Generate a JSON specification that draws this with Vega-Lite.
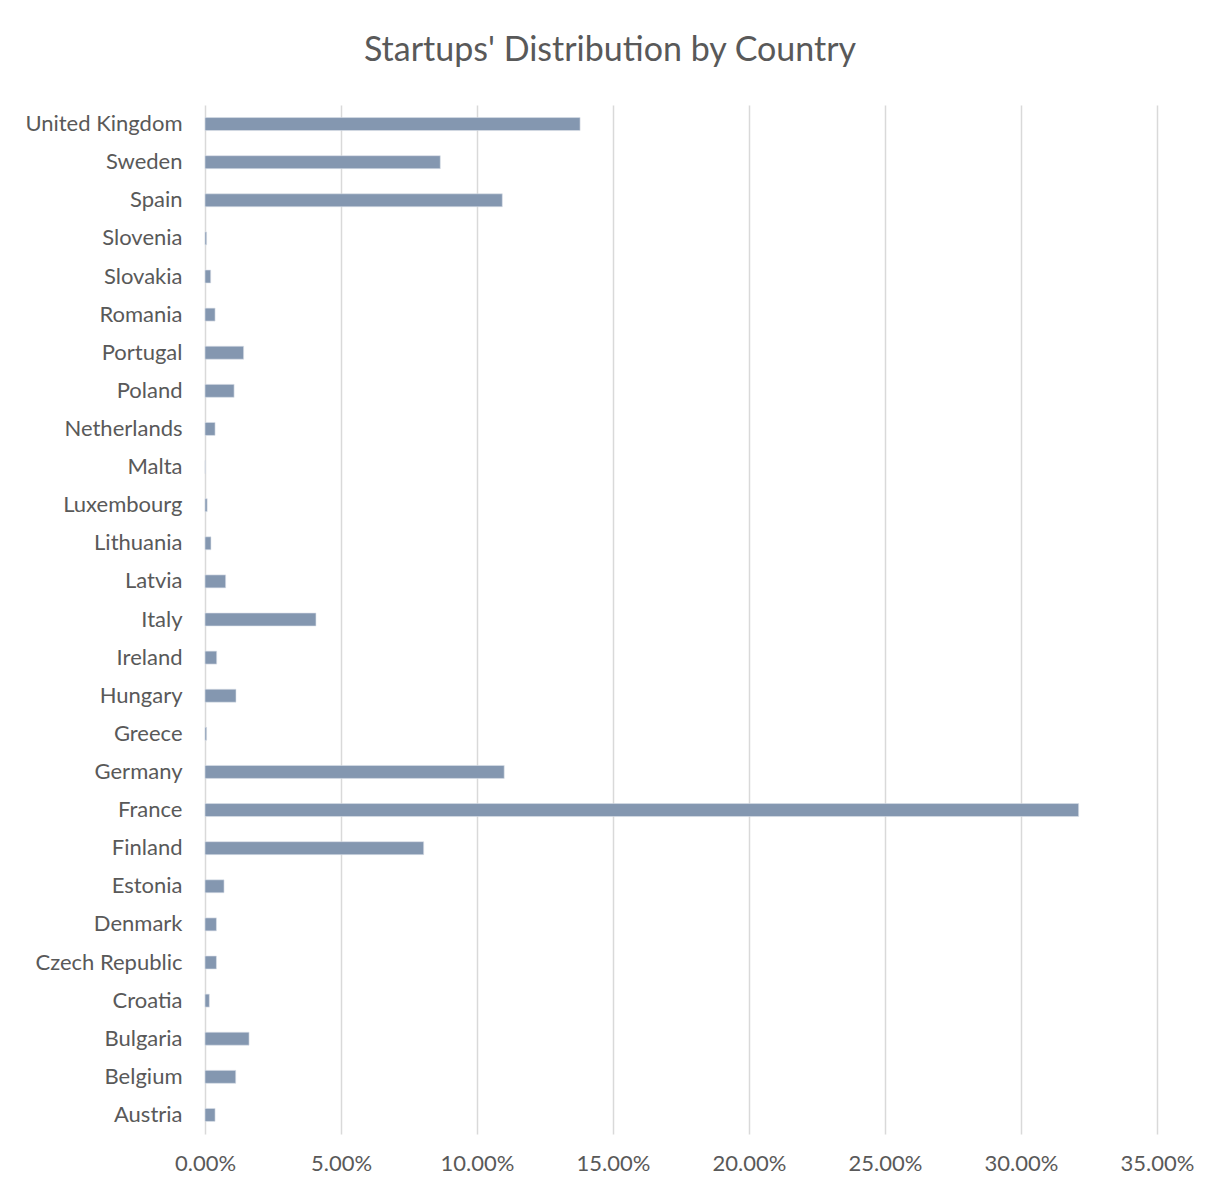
{
  "$schema": "https://vega.github.io/schema/vega-lite/v6.json",
  "autosize": "none",
  "width": 952,
  "height": 1029,
  "padding": {"left": 205, "top": 105, "right": 63, "bottom": 55},
  "background": "white",
  "title": {
    "text": "Startups' Distribution by Country",
    "anchor": "middle",
    "dx": -71,
    "offset": 37,
    "fontSize": 34,
    "font": "Lato",
    "fontWeight": "normal",
    "color": "#595959"
  },
  "data": {
    "values": [
      {"country": "United Kingdom", "share": 0.1379},
      {"country": "Sweden", "share": 0.0865},
      {"country": "Spain", "share": 0.1093},
      {"country": "Slovenia", "share": 0.0006},
      {"country": "Slovakia", "share": 0.0021},
      {"country": "Romania", "share": 0.0037},
      {"country": "Portugal", "share": 0.0142},
      {"country": "Poland", "share": 0.0107},
      {"country": "Netherlands", "share": 0.0037},
      {"country": "Malta", "share": 0.0001},
      {"country": "Luxembourg", "share": 0.0008},
      {"country": "Lithuania", "share": 0.0022},
      {"country": "Latvia", "share": 0.0076},
      {"country": "Italy", "share": 0.0408},
      {"country": "Ireland", "share": 0.0043},
      {"country": "Hungary", "share": 0.0114},
      {"country": "Greece", "share": 0.0006},
      {"country": "Germany", "share": 0.11},
      {"country": "France", "share": 0.3212},
      {"country": "Finland", "share": 0.0804},
      {"country": "Estonia", "share": 0.007},
      {"country": "Denmark", "share": 0.0042},
      {"country": "Czech Republic", "share": 0.0042},
      {"country": "Croatia", "share": 0.0016},
      {"country": "Bulgaria", "share": 0.0162},
      {"country": "Belgium", "share": 0.0113},
      {"country": "Austria", "share": 0.0037}
    ]
  },
  "mark": {"type": "bar", "color": "#8497b0", "stroke": "#dbe1ea", "strokeWidth": 0.6},
  "encoding": {
    "y": {
      "field": "country",
      "type": "nominal",
      "sort": "descending",
      "scale": {"paddingInner": 0.66, "paddingOuter": 0.33},
      "axis": {
        "title": null,
        "domain": false,
        "ticks": false,
        "labelFont": "Lato",
        "labelFontSize": 22,
        "labelColor": "#595959",
        "labelPadding": 23,
        "grid": false
      }
    },
    "x": {
      "field": "share",
      "type": "quantitative",
      "scale": {"domain": [0, 0.35], "nice": false},
      "axis": {
        "title": null,
        "format": ".2%",
        "values": [0, 0.05, 0.1, 0.15, 0.2, 0.25, 0.3, 0.35],
        "domain": false,
        "ticks": false,
        "grid": true,
        "gridColor": "#d9d9d9",
        "gridWidth": 1.5,
        "labelFlush": false,
        "labelFont": "Lato",
        "labelFontSize": 22,
        "labelColor": "#595959",
        "labelPadding": 19
      }
    }
  },
  "config": {"view": {"stroke": null}}
}
